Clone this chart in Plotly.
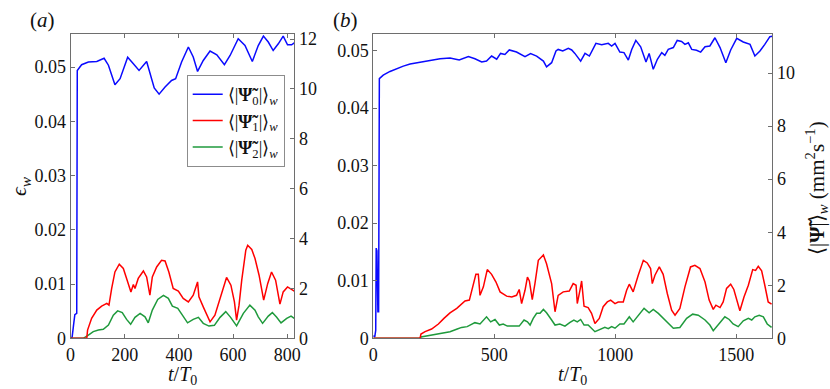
import plotly.graph_objects as go

# values, in mm^2 s^-1 (right-hand axis units)
A_T0 = [0, 6, 12, 16, 23, 25, 41, 66, 97, 115, 124, 140, 164, 183, 211, 232, 253, 281, 297, 309,
        327, 349, 373, 388, 410, 435, 453, 469, 490, 515, 540, 568, 589, 619, 644, 671, 693, 712,
        730, 748, 767, 785, 801, 816, 826]
A_PSI0 = [0, 0.05, 0.6, 0.95, 1.0, 10.74, 10.97, 11.08, 11.10, 11.18, 11.23, 10.95, 10.17, 10.41,
          11.27, 11.01, 10.74, 11.10, 10.55, 10.04, 9.79, 10.08, 10.34, 10.41, 11.08, 11.68, 11.28,
          10.70, 11.14, 11.52, 11.37, 10.97, 11.34, 12.01, 11.74, 11.10, 11.74, 12.12, 11.88, 11.54,
          11.81, 12.12, 11.77, 11.77, 11.85]

A_T1 = [0, 60, 63, 78, 97, 115, 134, 142, 152, 164, 180, 195, 207, 223, 232, 238, 250, 269, 281,
        293, 302, 318, 336, 349, 363, 379, 398, 416, 435, 453, 469, 474, 490, 503, 515, 533, 558,
        576, 592, 605, 613, 622, 632, 647, 654, 669, 681, 696, 713, 728, 742, 757, 773, 785, 801,
        816, 826]
A_PSI1 = [0, 0, 0.33, 0.80, 1.13, 1.29, 1.40, 1.33, 2.0, 2.66, 2.97, 2.80, 2.40, 1.86, 2.16, 2.0,
          2.40, 2.70, 2.46, 1.73, 2.46, 2.86, 3.13, 3.10, 2.66, 2.0, 1.89, 1.60, 1.46, 1.73, 2.26,
          1.66, 1.26, 0.93, 0.66, 0.93, 1.80, 2.44, 2.13, 1.46, 0.73, 1.33, 2.33, 3.53, 3.73, 3.56,
          3.2, 2.53, 1.53, 2.2, 2.66, 2.33, 1.37, 1.86, 2.06, 1.96, 1.89]

A_T2 = [0, 47, 66, 84, 103, 121, 140, 158, 174, 191, 207, 222, 238, 257, 275, 287, 302, 322, 343,
        361, 376, 396, 413, 432, 453, 472, 490, 511, 531, 552, 573, 591, 613, 638, 662, 681, 693,
        709, 730, 745, 761, 777, 798, 814, 826]
A_PSI2 = [0, 0, 0.13, 0.27, 0.33, 0.36, 0.53, 0.93, 1.10, 1.03, 0.76, 0.56, 0.84, 1.0, 0.86, 0.62,
          1.13, 1.56, 1.72, 1.60, 1.29, 1.20, 0.93, 0.62, 0.76, 0.84, 0.60, 0.49, 0.52, 0.84, 1.07,
          0.84, 0.50, 1.0, 1.33, 1.13, 0.86, 0.60, 0.89, 1.03, 0.84, 0.62, 0.80, 0.89, 0.80]

B_T0 = [0, 6, 10, 12, 15, 19, 22, 25, 41, 69, 97, 124, 152, 193, 234, 276, 317, 355, 393, 420,
        448, 468, 489, 510, 526, 544, 562, 592, 627, 650, 675, 703, 716, 737, 755, 764, 783, 806,
        820, 833, 857, 875, 893, 920, 944, 971, 985, 999, 1019, 1036, 1054, 1068, 1085, 1105,
        1127, 1140, 1157, 1174, 1192, 1205, 1219, 1240, 1256, 1274, 1288, 1302, 1316, 1336, 1353,
        1371, 1391, 1412, 1433, 1457, 1477, 1502, 1529, 1557, 1577, 1598, 1618, 1639, 1649]
B_PSI0 = [0.1, 0.05, 0.3, 3.4, 3.3, 1.0, 1.0, 9.79, 9.92, 10.06, 10.17, 10.26, 10.34, 10.41, 10.48,
          10.54, 10.57, 10.49, 10.62, 10.54, 10.42, 10.45, 10.64, 10.52, 10.74, 10.70, 10.87,
          10.79, 10.62, 10.73, 10.64, 10.45, 10.23, 10.39, 10.83, 10.89, 10.83, 10.93, 10.87,
          10.74, 10.45, 10.74, 10.64, 11.12, 11.07, 11.12, 11.02, 11.12, 10.79, 10.77, 10.49,
          10.89, 11.23, 10.99, 10.42, 10.74, 10.14, 10.52, 10.77, 10.67, 10.89, 10.96, 11.23,
          11.19, 11.08, 11.14, 10.89, 10.86, 10.79, 10.99, 11.02, 11.33, 10.96, 10.39, 10.87,
          11.31, 11.17, 11.08, 10.64, 10.83, 11.08, 11.37, 11.39]

B_T1 = [0, 193, 197, 214, 241, 269, 292, 317, 345, 361, 379, 397, 411, 424, 434, 441, 455, 471,
        489, 507, 524, 551, 572, 592, 603, 613, 627, 637, 645, 657, 668, 682, 703, 716, 737, 751,
        764, 785, 810, 826, 838, 843, 854, 861, 871, 888, 902, 916, 934, 950, 967, 981, 999, 1012,
        1033, 1047, 1058, 1074, 1095, 1116, 1132, 1146, 1153, 1164, 1182, 1198, 1215, 1233, 1247,
        1267, 1288, 1311, 1329, 1350, 1371, 1388, 1405, 1416, 1433, 1446, 1460, 1477, 1490, 1504,
        1515, 1532, 1550, 1568, 1580, 1591, 1605, 1618, 1632, 1646]
B_PSI1 = [0, 0, 0.16, 0.25, 0.35, 0.54, 0.75, 0.96, 1.13, 1.25, 1.41, 1.44, 1.94, 2.41, 2.41,
          1.62, 1.94, 2.59, 2.41, 2.12, 1.75, 1.59, 1.56, 1.62, 1.84, 1.31, 1.81, 2.31, 2.16, 1.46,
          2.06, 2.94, 3.14, 2.81, 2.06, 1.0, 1.62, 1.75, 1.78, 2.06, 2.0, 1.31, 1.81, 2.16, 1.21,
          1.16, 0.94, 0.56, 0.75, 1.19, 1.37, 1.44, 1.31, 1.37, 1.37, 1.81, 2.04, 1.75, 2.38, 2.94,
          2.84, 2.63, 2.06, 2.38, 2.69, 2.41, 1.69, 1.06, 0.87, 1.13, 1.94, 2.69, 2.75, 2.63, 2.12,
          1.44, 1.09, 1.25, 1.16, 1.37, 1.88, 2.04, 1.84, 1.44, 1.04, 1.56, 2.0, 2.59, 2.56, 2.71,
          2.54, 2.0, 1.37, 1.29]

B_T2 = [0, 193, 197, 234, 276, 317, 347, 365, 388, 420, 441, 468, 485, 503, 521, 537, 554, 578,
        603, 623, 637, 648, 661, 675, 689, 703, 716, 737, 751, 771, 792, 813, 829, 843, 857, 871,
        888, 916, 937, 957, 971, 985, 999, 1019, 1036, 1058, 1074, 1095, 1119, 1140, 1157, 1178,
        1198, 1219, 1240, 1267, 1295, 1320, 1343, 1371, 1391, 1405, 1426, 1453, 1471, 1487, 1508,
        1529, 1550, 1564, 1577, 1595, 1612, 1628, 1646]
B_PSI2 = [0, 0, 0.05, 0.11, 0.19, 0.25, 0.35, 0.41, 0.44, 0.59, 0.54, 0.81, 0.62, 0.71, 0.50,
          0.54, 0.46, 0.47, 0.46, 0.69, 0.62, 0.50, 0.75, 0.94, 0.94, 1.09, 0.96, 0.69, 0.50, 0.54,
          0.46, 0.60, 0.69, 0.62, 0.71, 0.50, 0.50, 0.25, 0.34, 0.41, 0.36, 0.44, 0.38, 0.54, 0.54,
          0.81, 0.62, 0.87, 1.13, 0.96, 1.09, 0.94, 0.75, 0.54, 0.38, 0.41, 0.75, 0.91, 0.87, 0.69,
          0.50, 0.29, 0.50, 0.81, 0.71, 0.54, 0.44, 0.66, 0.75, 0.69, 0.81, 0.87, 0.81, 0.54, 0.41]

EPS_TICKS = [0, 0.01, 0.02, 0.03, 0.04, 0.05]
EPS_LABELS = ["0", "0.01", "0.02", "0.03", "0.04", "0.05"]
PSI_TICKS = [0, 2, 4, 6, 8, 10, 12]
A_XTICKS = [0, 200, 400, 600, 800]
B_XTICKS = [0, 500, 1000, 1500]

W, H = 830, 389
FONT = "Liberation Serif"
AXIS_COLOR = "#6e6e6e"
COLORS = {"blue": "#0a0aff", "red": "#ff0000", "green": "#1f9a3c"}
PSI = "\u27e8|<b>\u03a8\u0303</b><sub>{}</sub>|\u27e9<sub><i>w</i></sub>"


def px_x(x):
    return x / W


def px_y(y):
    return (H - y) / H


fig = go.Figure()

panels = [
    # xaxis, left y, right y, traces
    ("x", "y", "y2", [(A_T0, A_PSI0, "blue", 0), (A_T2, A_PSI2, "green", 2), (A_T1, A_PSI1, "red", 1)]),
    ("x2", "y3", "y4", [(B_T0, B_PSI0, "blue", 0), (B_T2, B_PSI2, "green", 2), (B_T1, B_PSI1, "red", 1)]),
]

for p, (xa, yl, yr, series) in enumerate(panels):
    # invisible anchor trace so the left (epsilon) axis is drawn
    fig.add_trace(go.Scatter(x=[0], y=[0], xaxis=xa, yaxis=yl, mode="markers",
                             marker={"opacity": 0}, showlegend=False, hoverinfo="skip"))
    for t, v, c, idx in series:
        fig.add_trace(go.Scatter(
            x=t, y=v, xaxis=xa, yaxis=yr, mode="lines",
            name=PSI.format(idx), legendrank=idx + 1,
            line={"color": COLORS[c], "width": 1.5},
            showlegend=(p == 0),
        ))

ydom = [px_y(338.3), px_y(34.3)]
common = dict(showline=True, linecolor=AXIS_COLOR, linewidth=1, ticks="inside", ticklen=4,
              tickcolor=AXIS_COLOR, showgrid=False, zeroline=False, automargin=False,
              tickfont={"family": FONT, "size": 18, "color": "#111"})

fig.update_layout(
    width=W, height=H, autosize=False,
    margin={"l": 0, "r": 0, "t": 0, "b": 0},
    paper_bgcolor="white", plot_bgcolor="white",
    showlegend=True,
    legend={"x": px_x(186.7), "y": px_y(75), "xanchor": "left", "yanchor": "top",
            "bgcolor": "white", "bordercolor": "#8c8c8c", "borderwidth": 1,
            "font": {"family": FONT, "size": 18, "color": "#111"},
            "itemwidth": 30, "tracegroupgap": 0},
    xaxis={**common, "domain": [px_x(70.5), px_x(294.3)], "anchor": "y", "range": [0, 826],
           "tickvals": A_XTICKS, "mirror": "ticks"},
    yaxis={**common, "domain": ydom, "anchor": "x", "range": [0, 0.05603],
           "tickvals": EPS_TICKS, "ticktext": EPS_LABELS},
    yaxis2={**common, "overlaying": "y", "side": "right", "anchor": "x", "range": [0, 12.19],
            "tickvals": PSI_TICKS},
    xaxis2={**common, "domain": [px_x(373.3), px_x(772.3)], "anchor": "y3", "range": [0, 1649],
            "tickvals": B_XTICKS, "mirror": "ticks"},
    yaxis3={**common, "domain": ydom, "anchor": "x2", "range": [0, 0.0528],
            "tickvals": EPS_TICKS, "ticktext": EPS_LABELS},
    yaxis4={**common, "overlaying": "y3", "side": "right", "anchor": "x2", "range": [0, 11.46],
            "tickvals": PSI_TICKS},
)

title_font = {"family": FONT, "size": 21, "color": "#111"}
notes = [
    ("(<i>a</i>)", 42, 20, 0, 21),
    ("(<i>b</i>)", 345, 20, 0, 21),
    ("<i>t</i>/<i>T</i><sub>0</sub>", (70.5 + 294.3) / 2, 375, 0, 20),
    ("<i>t</i>/<i>T</i><sub>0</sub>", (373.3 + 772.3) / 2, 375, 0, 20),
    ("<i>\u03f5<sub>w</sub></i>", 20, 186, -90, 22),
    ("\u27e8|<b>\u03a8\u0303</b>|\u27e9<sub><i>w</i></sub> (mm<sup>2</sup>s<sup>\u22121</sup>)",
     816, 188, -90, 21),
]
for text, x, y, angle, size in notes:
    fig.add_annotation(text=text, x=px_x(x), y=px_y(y), xref="paper", yref="paper",
                       showarrow=False, textangle=angle, font={**title_font, "size": size},
                       xanchor="center", yanchor="middle")

# the page body has a default 8px margin; drop it so the figure fills the window
fig.write_html("out.html", config={"displayModeBar": False},
               post_script="document.body.style.margin = '0';")
